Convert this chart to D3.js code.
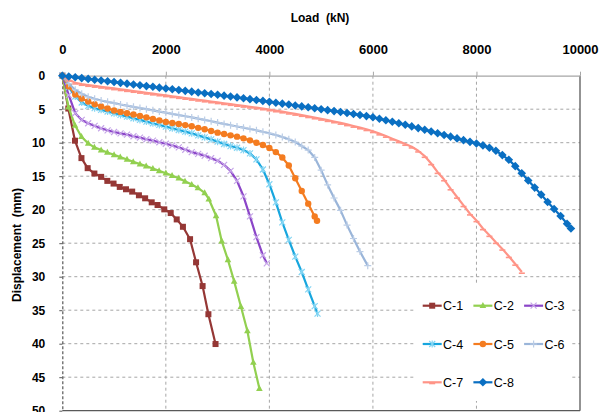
<!DOCTYPE html>
<html>
<head>
<meta charset="utf-8">
<script src="https://cdn.jsdelivr.net/npm/d3@7"></script>
<style>
  body { margin: 0; background: #fff; }
  svg { display: block; }
</style>
</head>
<body>
<div id="chart"></div>
<script>
// load (kN) / displacement (mm) pairs
const loadTicks = [0, 2000, 4000, 6000, 8000, 10000];
const dispTicks = [0, 5, 10, 15, 20, 25, 30, 35, 40, 45, 50];
const seriesNames = ["C-1", "C-2", "C-3", "C-4", "C-5", "C-6", "C-7", "C-8"];

const c1 = [[0,0],[116,4.9],[245,9.7],[370,12.3],[490,13.8],[620,14.6],[750,15.1],[870,15.7],
  [990,16.1],[1110,16.6],[1230,16.95],[1350,17.3],[1480,17.85],[1600,18.3],[1727,18.9],[1840,19.3],
  [1970,19.95],[2094,20.5],[2210,21.45],[2330,22.55],[2468,24.4],[2584,27.85],[2710,31.4],[2822,35.6],[2960,40.05]];

const c2 = [[0,0],[120,4.7],[245,7.4],[370,9.1],[500,10.1],[620,10.7],[750,11.1],[870,11.45],
  [1000,11.8],[1120,12.15],[1250,12.5],[1370,12.85],[1500,13.2],[1620,13.5],[1750,13.85],[1870,14.2],
  [2000,14.55],[2120,14.9],[2250,15.3],[2370,15.75],[2500,16.25],[2620,16.75],[2750,17.5],[2830,18.4],
  [2970,20.9],[3080,24.7],[3200,27.5],[3320,30.7],[3450,34.45],[3575,38.1],[3690,42.8],[3807,46.7]];

const c3 = [[0,0],[125,2.9],[250,5.6],[375,6.6],[500,7.1],[625,7.5],[750,7.85],[875,8.15],
  [1000,8.4],[1125,8.6],[1250,8.8],[1375,9.03],[1500,9.25],[1625,9.48],[1750,9.7],[1875,9.93],
  [2000,10.15],[2125,10.42],[2250,10.7],[2375,11.05],[2500,11.4],[2625,11.67],[2750,11.95],[2875,12.3],
  [3000,12.7],[3125,13.3],[3250,14.2],[3375,15.7],[3500,18.0],[3625,21.0],[3750,24.1],[3875,26.8],[3950,28.0]];

const c4 = [[0,0],[125,1.7],[250,3.1],[375,4.0],[500,4.5],[625,4.85],[750,5.1],[875,5.35],
  [1000,5.6],[1125,5.85],[1250,6.1],[1375,6.35],[1500,6.6],[1625,6.85],[1750,7.1],[1875,7.35],
  [2000,7.6],[2125,7.85],[2250,8.1],[2375,8.35],[2500,8.6],[2625,8.9],[2750,9.2],[2875,9.5],
  [3000,9.85],[3125,10.2],[3250,10.5],[3375,10.75],[3500,11.1],[3625,11.6],[3750,12.5],[3875,14.0],
  [4000,16.2],[4125,18.9],[4250,21.9],[4375,24.5],[4500,27.0],[4625,29.3],[4750,31.9],[4875,34.4],[4930,35.5]];

const c5 = [[0,0],[125,1.6],[250,2.8],[375,3.4],[500,3.85],[625,4.25],[750,4.6],[875,4.9],
  [1000,5.2],[1125,5.4],[1250,5.6],[1375,5.8],[1500,6.0],[1625,6.22],[1750,6.45],[1875,6.67],
  [2000,6.9],[2125,7.05],[2250,7.2],[2375,7.37],[2500,7.55],[2625,7.78],[2750,8.0],[2875,8.25],
  [3000,8.5],[3125,8.7],[3250,8.9],[3375,9.1],[3500,9.35],[3625,9.65],[3750,10.0],[3875,10.35],
  [4000,10.8],[4125,11.4],[4250,12.2],[4375,13.4],[4500,15.3],[4625,17.2],[4750,19.1],[4875,21.0],[4920,21.65]];

const c6 = [[0,0],[125,1.2],[250,2.1],[375,2.7],[500,3.15],[625,3.45],[750,3.7],[875,3.9],
  [1000,4.1],[1125,4.3],[1250,4.47],[1375,4.65],[1500,4.82],[1625,5.0],[1750,5.17],[1875,5.35],
  [2000,5.52],[2125,5.7],[2250,5.88],[2375,6.05],[2500,6.23],[2625,6.41],[2750,6.6],[2875,6.8],
  [3000,7.0],[3125,7.2],[3250,7.4],[3375,7.58],[3500,7.76],[3625,7.95],[3750,8.15],[3875,8.37],
  [4000,8.6],[4125,8.85],[4250,9.15],[4375,9.5],[4500,9.9],[4625,10.5],[4750,11.1],[4875,12.2],
  [5000,14.1],[5125,16.3],[5250,18.25],[5375,20.1],[5500,22.3],[5625,24.3],[5750,26.25],[5900,28.35]];

const c7 = [[0,0],[125,0.6],[250,1.05],[375,1.25],[500,1.4],[625,1.53],[750,1.66],[875,1.78],
  [1000,1.9],[1125,2.03],[1250,2.16],[1375,2.29],[1500,2.42],[1625,2.55],[1750,2.68],[1875,2.81],
  [2000,2.94],[2125,3.07],[2250,3.2],[2375,3.33],[2500,3.46],[2625,3.59],[2750,3.72],[2875,3.85],
  [3000,3.98],[3125,4.11],[3250,4.24],[3375,4.37],[3500,4.5],[3625,4.63],[3750,4.76],[3875,4.9],
  [4000,5.05],[4125,5.2],[4250,5.36],[4375,5.53],[4500,5.7],[4625,5.88],[4750,6.06],[4875,6.25],
  [5000,6.44],[5125,6.64],[5250,6.84],[5375,7.05],[5500,7.27],[5625,7.5],[5750,7.74],[5875,8.0],
  [6000,8.3],[6125,8.65],[6250,9.0],[6375,9.4],[6500,9.8],[6625,10.2],[6750,10.6],[6875,11.2],
  [7000,12.0],[7125,13.1],[7250,14.4],[7375,15.5],[7500,16.85],[7625,18.1],[7750,19.35],[7875,20.6],
  [8000,21.6],[8125,22.8],[8250,23.8],[8375,24.85],[8500,25.85],[8625,26.95],[8750,28.1],[8877,29.3]];

const c8 = [[0,0],[125,0.12],[250,0.24],[375,0.36],[500,0.48],[625,0.6],[750,0.71],[875,0.83],
  [1000,0.95],[1125,1.07],[1250,1.19],[1375,1.31],[1500,1.43],[1625,1.55],[1750,1.66],[1875,1.78],
  [2000,1.9],[2125,2.02],[2250,2.14],[2375,2.26],[2500,2.38],[2625,2.5],[2750,2.62],[2875,2.73],
  [3000,2.85],[3125,2.98],[3250,3.11],[3375,3.24],[3500,3.37],[3625,3.5],[3750,3.63],[3875,3.76],
  [4000,3.9],[4125,4.03],[4250,4.17],[4375,4.3],[4500,4.44],[4625,4.58],[4750,4.72],[4875,4.86],
  [5000,5.0],[5125,5.14],[5250,5.28],[5375,5.42],[5500,5.57],[5625,5.72],[5750,5.87],[5875,6.03],
  [6000,6.2],[6125,6.42],[6250,6.65],[6375,6.88],[6500,7.1],[6625,7.33],[6750,7.57],[6875,7.82],
  [7000,8.06],[7125,8.32],[7250,8.58],[7375,8.84],[7500,9.1],[7625,9.36],[7750,9.62],[7875,9.87],
  [8000,10.12],[8125,10.4],[8250,10.75],[8375,11.2],[8500,11.85],[8625,12.55],[8750,13.5],[8875,14.55],
  [9000,15.65],[9125,16.7],[9250,17.75],[9375,18.85],[9500,19.9],[9625,20.95],[9750,22.1],[9825,22.8]];

const seriesData = [c1, c2, c3, c4, c5, c6, c7, c8];

// drawing styles per series (line colour, marker colour, marker type)
const styles = [
  { line: "#953735", mark: "#953735", type: "square" },
  { line: "#92D050", mark: "#92D050", type: "triangle" },
  { line: "#8B45C8", mark: "#C6A6E8", type: "x" },
  { line: "#17A6DE", mark: "#84D5F3", type: "star" },
  { line: "#F47C20", mark: "#F47C20", type: "circle" },
  { line: "#9AB5D9", mark: "#BBCDE6", type: "plus" },
  { line: "#FF9487", mark: "#FF9487", type: "dash" },
  { line: "#0A6FC2", mark: "#0A6FC2", type: "diamond" }
];

const width = 616, height = 412;
const font = "'Liberation Sans', Arial, sans-serif";

const x = d3.scaleLinear().domain([0, 10000]).range([62.3, 580]);
const y = d3.scaleLinear().domain([0, 50]).range([75.7, 410.7]);

const svg = d3.select("#chart").append("svg")
    .attr("width", width)
    .attr("height", height)
    .attr("viewBox", [0, 0, width, height])
    .attr("font-family", font);

// grid
svg.append("g")
  .selectAll("line")
  .data(dispTicks.slice(1, -1))
  .join("line")
    .attr("x1", x(0)).attr("x2", x(10000))
    .attr("y1", d => y(d)).attr("y2", d => y(d))
    .attr("stroke", "#a6a6a6").attr("stroke-width", 1)
    .attr("stroke-dasharray", "3,3");

svg.append("g")
  .selectAll("line")
  .data(loadTicks.slice(1, -1))
  .join("line")
    .attr("x1", d => x(d)).attr("x2", d => x(d))
    .attr("y1", y(0)).attr("y2", y(50))
    .attr("stroke", "#a6a6a6").attr("stroke-width", 1)
    .attr("stroke-dasharray", "3,3");

// frame: right and bottom
svg.append("line")
    .attr("x1", x(10000)).attr("x2", x(10000)).attr("y1", y(0)).attr("y2", y(50))
    .attr("stroke", "#595959").attr("stroke-width", 1.3);
svg.append("line")
    .attr("x1", x(0)).attr("x2", x(10000)).attr("y1", y(50)).attr("y2", y(50))
    .attr("stroke", "#595959").attr("stroke-width", 1.3);

// top axis (load)
const xAxis = svg.append("g")
    .attr("transform", `translate(0,${y(0)})`)
    .call(d3.axisTop(x).tickValues(loadTicks).tickSize(4).tickPadding(18).tickSizeOuter(0).tickFormat(d3.format("d")));
xAxis.select(".domain").attr("stroke", "#a6a6a6").attr("stroke-width", 1.3);
xAxis.selectAll(".tick line").attr("stroke", "#a6a6a6");
xAxis.selectAll("text")
    .attr("font-family", font).attr("font-size", 13).attr("font-weight", "bold").attr("fill", "#000");

// left axis (displacement)
const yAxis = svg.append("g")
    .attr("transform", `translate(${x(0)},0)`)
    .call(d3.axisLeft(y).tickValues(dispTicks).tickSize(3).tickPadding(14).tickSizeOuter(0));
yAxis.select(".domain").attr("stroke", "#595959").attr("stroke-width", 1.2).attr("stroke-dasharray", "3,2");
yAxis.selectAll(".tick line").attr("stroke", "#595959");
yAxis.selectAll("text")
    .attr("font-family", font).attr("font-size", 12).attr("font-weight", "bold").attr("fill", "#000");

// axis titles
svg.append("text")
    .attr("x", 320).attr("y", 22)
    .attr("text-anchor", "middle")
    .attr("font-size", 12).attr("font-weight", "bold")
    .attr("xml:space", "preserve")
    .text("Load  (kN)");

svg.append("text")
    .attr("transform", "translate(21,245) rotate(-90)")
    .attr("text-anchor", "middle")
    .attr("font-size", 12).attr("font-weight", "bold")
    .attr("xml:space", "preserve")
    .text("Displacement  (mm)");

// marker drawing
function drawMarker(g, type, color) {
  switch (type) {
    case "square":
      g.append("rect").attr("x", -3).attr("y", -3).attr("width", 6).attr("height", 6).attr("fill", color);
      break;
    case "triangle":
      g.append("path").attr("d", "M0,-3.6L3.3,2.4L-3.3,2.4Z").attr("fill", color);
      break;
    case "circle":
      g.append("circle").attr("r", 3.2).attr("fill", color);
      break;
    case "diamond":
      g.append("path").attr("d", "M0,-4.3L4.3,0L0,4.3L-4.3,0Z").attr("fill", color);
      break;
    case "x":
      g.append("path").attr("d", "M-3,-3L3,3M-3,3L3,-3").attr("stroke", color).attr("stroke-width", 1.2).attr("fill", "none");
      break;
    case "star":
      g.append("path").attr("d", "M-3,-3L3,3M-3,3L3,-3M0,-3.5L0,3.5").attr("stroke", color).attr("stroke-width", 1.2).attr("fill", "none");
      break;
    case "plus":
      g.append("path").attr("d", "M-3.5,0L3.5,0M0,-3.5L0,3.5").attr("stroke", color).attr("stroke-width", 1.2).attr("fill", "none");
      break;
    case "dash":
      g.append("path").attr("d", "M-3,1.2L3,1.2").attr("stroke", color).attr("stroke-width", 1.6).attr("fill", "none");
      break;
  }
}

// series
const line = d3.line().x(d => x(d[0])).y(d => y(d[1]));

seriesData.forEach((data, i) => {
  const st = styles[i];
  const g = svg.append("g");
  g.append("path")
      .datum(data)
      .attr("d", line)
      .attr("fill", "none")
      .attr("stroke", st.line)
      .attr("stroke-width", 2.2)
      .attr("stroke-linejoin", "round");
  g.selectAll("g.pt")
    .data(data)
    .join("g")
      .attr("class", "pt")
      .attr("transform", d => `translate(${x(d[0])},${y(d[1])})`)
      .each(function () { drawMarker(d3.select(this), st.type, st.mark); });
});

// legend
const legend = svg.append("g");
legend.append("rect")
    .attr("x", 416).attr("y", 284).attr("width", 156).attr("height", 117)
    .attr("fill", "#fff");

seriesNames.forEach((name, i) => {
  const col = i % 3, row = Math.floor(i / 3);
  const lx = 422.7 + col * 50.7;
  const ly = 305.7 + row * 38.3;
  const st = styles[i];
  const item = legend.append("g");
  item.append("line")
      .attr("x1", lx).attr("x2", lx + 19).attr("y1", ly).attr("y2", ly)
      .attr("stroke", st.line).attr("stroke-width", 2.2);
  const m = item.append("g").attr("transform", `translate(${lx + 9.5},${ly})`);
  drawMarker(m, st.type, st.mark);
  item.append("text")
      .attr("x", lx + 20.3).attr("y", ly)
      .attr("dy", "0.36em")
      .attr("font-size", 12.5)
      .attr("fill", "#000")
      .text(name);
});
</script>
</body>
</html>
